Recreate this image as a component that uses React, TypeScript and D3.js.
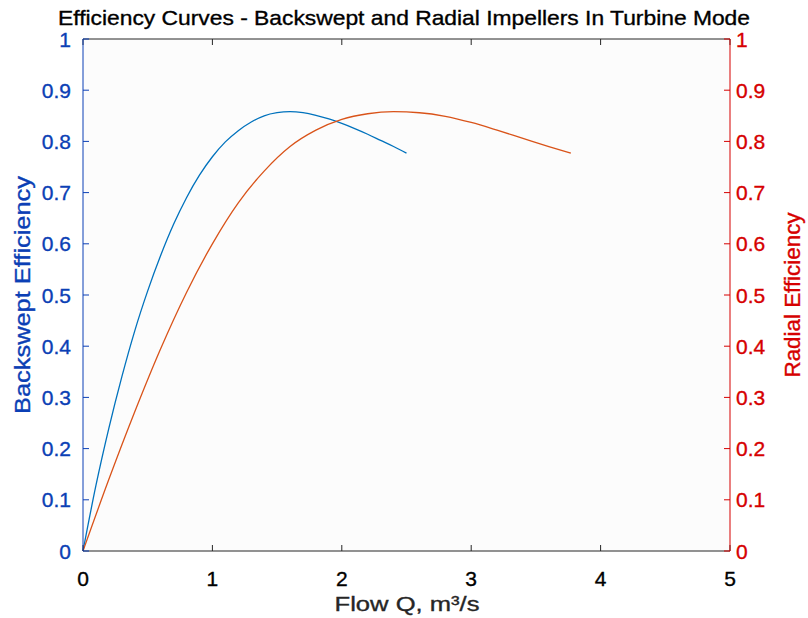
import React from "react";
import * as d3 from "d3";

const backsweptQ = [0, 0.1, 0.2, 0.3, 0.4, 0.5, 0.6, 0.7, 0.8, 0.9, 1.0, 1.1, 1.2, 1.3, 1.4, 1.5, 1.6, 1.7, 1.8, 1.9, 2.0, 2.1, 2.2, 2.3, 2.4, 2.5];
const backsweptEff = [0, 0.128, 0.24, 0.34, 0.43, 0.508, 0.577, 0.638, 0.69, 0.734, 0.77, 0.799, 0.821, 0.838, 0.85, 0.856, 0.858, 0.856, 0.851, 0.844, 0.835, 0.825, 0.814, 0.802, 0.79, 0.777];
const radialQ = [0, 0.2, 0.4, 0.6, 0.8, 1.0, 1.2, 1.4, 1.6, 1.8, 2.0, 2.2, 2.4, 2.6, 2.8, 3.0, 3.2, 3.4, 3.6, 3.77];
const radialEff = [0, 0.14, 0.272, 0.395, 0.505, 0.6, 0.68, 0.742, 0.79, 0.822, 0.843, 0.854, 0.858, 0.856, 0.849, 0.837, 0.822, 0.806, 0.79, 0.777];
const xTicks = [0, 1, 2, 3, 4, 5];
const yTicks = [0, 0.1, 0.2, 0.3, 0.4, 0.5, 0.6, 0.7, 0.8, 0.9, 1];

const W = 808, H = 618;
const M = { left: 83, right: 730, top: 39, bottom: 551 };
const BLUE_LINE = "#0072BD";
const RED_LINE = "#D95319";
const BLUE_AX = "#0b3fb5";
const RED_AX = "#d60000";
const FONT = "'Liberation Sans', Arial, Helvetica, sans-serif";
const SW = 0.35;

export default function App() {
  const x = d3.scaleLinear().domain([0, 5]).range([M.left, M.right]);
  const yL = d3.scaleLinear().domain([0, 1]).range([M.bottom, M.top]);
  const yR = d3.scaleLinear().domain([0, 1]).range([M.bottom, M.top]);
  const line = d3.line<[number, number]>().curve(d3.curveMonotoneX);
  const bPath = line(backsweptQ.map((q, i) => [x(q), yL(backsweptEff[i])]))!;
  const rPath = line(radialQ.map((q, i) => [x(q), yR(radialEff[i])]))!;
  const fmt = (v: number) => (v === 0 || v === 1 ? String(v) : v.toFixed(1));
  const tl = 6;
  const cy = (M.top + M.bottom) / 2;
  return (
    <div style={{ position: "absolute", left: 0, top: 0 }}>
      <svg width={W} height={H} style={{ display: "block", background: "#fff" }} fontFamily={FONT}>
        <rect x={M.left} y={M.top} width={M.right - M.left} height={M.bottom - M.top} fill="#fcfcfc" />
        <path d={bPath} fill="none" stroke={BLUE_LINE} strokeWidth={1.3} />
        <path d={rPath} fill="none" stroke={RED_LINE} strokeWidth={1.3} />
        <line x1={M.left} x2={M.right} y1={M.top} y2={M.top} stroke="#262626" strokeWidth={1} />
        <line x1={M.left} x2={M.right} y1={M.bottom} y2={M.bottom} stroke="#262626" strokeWidth={1} />
        {xTicks.map((t) => (
          <g key={"x" + t}>
            <line x1={x(t)} x2={x(t)} y1={M.bottom} y2={M.bottom - tl} stroke="#262626" />
            <line x1={x(t)} x2={x(t)} y1={M.top} y2={M.top + tl} stroke="#262626" />
            <text x={x(t)} y={586} textAnchor="middle" fontSize={21} fill="#000" stroke="#000" strokeWidth={SW}>{t}</text>
          </g>
        ))}
        <line x1={M.left} x2={M.left} y1={M.top} y2={M.bottom} stroke={BLUE_AX} strokeWidth={1} />
        {yTicks.map((t) => (
          <g key={"yl" + t}>
            <line x1={M.left} x2={M.left + tl} y1={yL(t)} y2={yL(t)} stroke={BLUE_AX} />
            <text x={71} y={yL(t) + 7.5} textAnchor="end" fontSize={21} fill={BLUE_AX} stroke={BLUE_AX} strokeWidth={SW}>{fmt(t)}</text>
          </g>
        ))}
        <line x1={M.right} x2={M.right} y1={M.top} y2={M.bottom} stroke={RED_AX} strokeWidth={1} />
        {yTicks.map((t) => (
          <g key={"yr" + t}>
            <line x1={M.right} x2={M.right - tl} y1={yR(t)} y2={yR(t)} stroke={RED_AX} />
            <text x={736} y={yR(t) + 7.5} textAnchor="start" fontSize={21} fill={RED_AX} stroke={RED_AX} strokeWidth={SW}>{fmt(t)}</text>
          </g>
        ))}
        <text x={404} y={25} textAnchor="middle" fontSize={21} textLength={692} lengthAdjust="spacingAndGlyphs" fill="#000" stroke="#000" strokeWidth={SW}>Efficiency Curves - Backswept and Radial Impellers In Turbine Mode</text>
        <text x={407} y={611} textAnchor="middle" fontSize={21} textLength={145} lengthAdjust="spacingAndGlyphs" fill="#262626" stroke="#262626" strokeWidth={SW}>Flow Q, m³/s</text>
        <text transform={`translate(30,${cy}) rotate(-90)`} textAnchor="middle" fontSize={22} textLength={238} lengthAdjust="spacingAndGlyphs" fill={BLUE_AX} stroke={BLUE_AX} strokeWidth={SW}>Backswept Efficiency</text>
        <text transform={`translate(800,${cy}) rotate(-90)`} textAnchor="middle" fontSize={22} textLength={165} lengthAdjust="spacingAndGlyphs" fill={RED_AX} stroke={RED_AX} strokeWidth={SW}>Radial Efficiency</text>
      </svg>
    </div>
  );
}
